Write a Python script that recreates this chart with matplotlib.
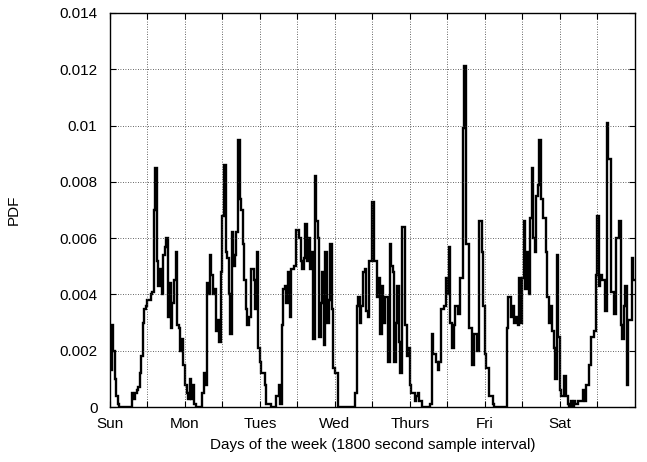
import numpy as np
import matplotlib
matplotlib.use("Agg")
import matplotlib.pyplot as plt

plt.rcParams['font.family'] = ['Liberation Sans', 'DejaVu Sans']

# PDF per half-hour bin (48 bins a day)
sun = [0.0013, 0.0029, 0.0020, 0.0010, 0.0004, 0.0001, 0, 0, 0, 0, 0, 0, 0, 0,
       0.0005, 0.0003, 0.0005, 0.0006, 0.0007, 0.0012, 0.0018, 0.0030, 0.0035, 0.0036,
       0.0038, 0.0038, 0.0040, 0.0041, 0.0070, 0.0085, 0.0052, 0.0043, 0.0049, 0.0040,
       0.0054, 0.0057, 0.0060, 0.0032, 0.0044, 0.0028, 0.0037, 0.0045, 0.0055, 0.0029,
       0.0028, 0.0020, 0.0024, 0.0015]
mon = [0.0008, 0.0005, 0.0003, 0.0010, 0.0003, 0.0008, 0.0001, 0, 0, 0, 0,
       0.0005, 0.0012, 0.0008, 0.0044, 0.0040, 0.0054, 0.0047, 0.0040, 0.0042,
       0.0027, 0.0031, 0.0023, 0.0048, 0.0068, 0.0086, 0.0055, 0.0053, 0.0040, 0.0026,
       0.0062, 0.0050, 0.0054, 0.0062, 0.0095, 0.0074, 0.0070, 0.0058, 0.0045, 0.0035,
       0.0029, 0.0032, 0.0049, 0.0049, 0.0045, 0.0035, 0.0055, 0.0021]
tue = [0.0016, 0.0012, 0.0012, 0.0008, 0.0001, 0.0001, 0.0001, 0, 0, 0,
       0.0004, 0.0004, 0.0008, 0.0001, 0.0029, 0.0042, 0.0043, 0.0037, 0.0048, 0.0032,
       0.0049, 0.0049, 0.0050, 0.0063, 0.0063, 0.0060, 0.0052, 0.0049, 0.0053, 0.0065,
       0.0052, 0.0060, 0.0049, 0.0055, 0.0024, 0.0082, 0.0066, 0.0060, 0.0025, 0.0037,
       0.0048, 0.0022, 0.0055, 0.0030, 0.0038, 0.0058, 0.0035, 0.0014]
wed = [0.0012, 0.0012, 0, 0, 0, 0, 0, 0, 0, 0, 0, 0, 0,
       0.0005, 0.0036, 0.0039, 0.0030, 0.0036, 0.0048, 0.0049, 0.0034, 0.0032,
       0.0052, 0.0052, 0.0073, 0.0052, 0.0052, 0.0039, 0.0046, 0.0026, 0.0043, 0.0030,
       0.0039, 0.0039, 0.0016, 0.0058, 0.0050, 0.0048, 0.0016, 0.0030, 0.0043, 0.0023,
       0.0012, 0.0064, 0.0064, 0.0029, 0.0018, 0.0021]
thu = [0.0008, 0.0005, 0.0005, 0.0002, 0.0004, 0.0005, 0.0002, 0.0002, 0, 0, 0, 0, 0,
       0.0001, 0.0026, 0.0019, 0.0019, 0.0016, 0.0013, 0.0016, 0.0035, 0.0035,
       0.0036, 0.0046, 0.0040, 0.0057, 0.0030, 0.0021, 0.0029, 0.0036, 0.0036, 0.0033,
       0.0046, 0.0046, 0.0099, 0.0121, 0.0058, 0.0058, 0.0028, 0.0028, 0.0015, 0.0026,
       0.0026, 0.0020, 0.0066, 0.0066, 0.0055, 0.0036]
fri = [0.0019, 0.0014, 0.0014, 0.0004, 0.0004, 0.0001, 0, 0, 0, 0, 0, 0, 0, 0,
       0.0028, 0.0039, 0.0039, 0.0032, 0.0036, 0.0030, 0.0032, 0.0029, 0.0046, 0.0030,
       0.0046, 0.0066, 0.0042, 0.0055, 0.0040, 0.0067, 0.0085, 0.0060, 0.0055, 0.0075,
       0.0079, 0.0095, 0.0074, 0.0067, 0.0067, 0.0055, 0.0039, 0.0030, 0.0036, 0.0027,
       0.0021, 0.0010, 0.0054, 0.0025]
sat = [0.0006, 0.0004, 0.0004, 0.0011, 0.0004, 0.0001, 0, 0.0002, 0, 0.0002,
       0.0001, 0.0001, 0.0002, 0.0002, 0.0002, 0.0006, 0.0002, 0.0008, 0.0008, 0.0015,
       0.0025, 0.0025, 0.0027, 0.0047, 0.0068, 0.0043, 0.0047, 0.0045, 0.0045, 0.0034,
       0.0101, 0.0088, 0.0088, 0.0041, 0.0041, 0.0033, 0.0060, 0.0060, 0.0066, 0.0029,
       0.0024, 0.0036, 0.0043, 0.0008, 0.0031, 0.0031, 0.0053, 0.0045]

days = ['Sun', 'Mon', 'Tues', 'Wed', 'Thurs', 'Fri', 'Sat']
yticks = [0, 0.002, 0.004, 0.006, 0.008, 0.01, 0.012, 0.014]
ylabels = ['0', '0.002', '0.004', '0.006', '0.008', '0.01', '0.012', '0.014']

pdf = np.array(sun + mon + tue + wed + thu + fri + sat)
edges = np.arange(len(pdf) + 1)

fig = plt.figure(figsize=(6.47, 4.62), dpi=100)
ax = fig.add_axes([0.170, 0.119, 0.811, 0.853])

ax.stairs(pdf, edges, baseline=None, color='black', linewidth=1.7)

ax.set_xlim(0, 336)
ax.set_ylim(0, 0.014)

xt = np.arange(0, 336, 24)
ax.set_xticks(xt)
ax.set_xticklabels([days[i // 2] if i % 2 == 0 else '' for i in range(len(xt))])
ax.set_yticks(yticks)
ax.set_yticklabels(ylabels)

ax.tick_params(direction='in', top=True, right=True, length=4, width=0.8,
               labelsize=11)
ax.tick_params(axis='x', pad=7)
ax.tick_params(axis='y', pad=9)
ax.grid(True, linestyle=(0, (1, 2)), color='#333333', linewidth=0.6)
for s in ax.spines.values():
    s.set_linewidth(1.0)

ax.set_xlabel('Days of the week (1800 second sample interval)', fontsize=11, labelpad=5)
ax.set_ylabel('PDF', fontsize=11, labelpad=28)

plt.savefig('out.png', dpi=100)
